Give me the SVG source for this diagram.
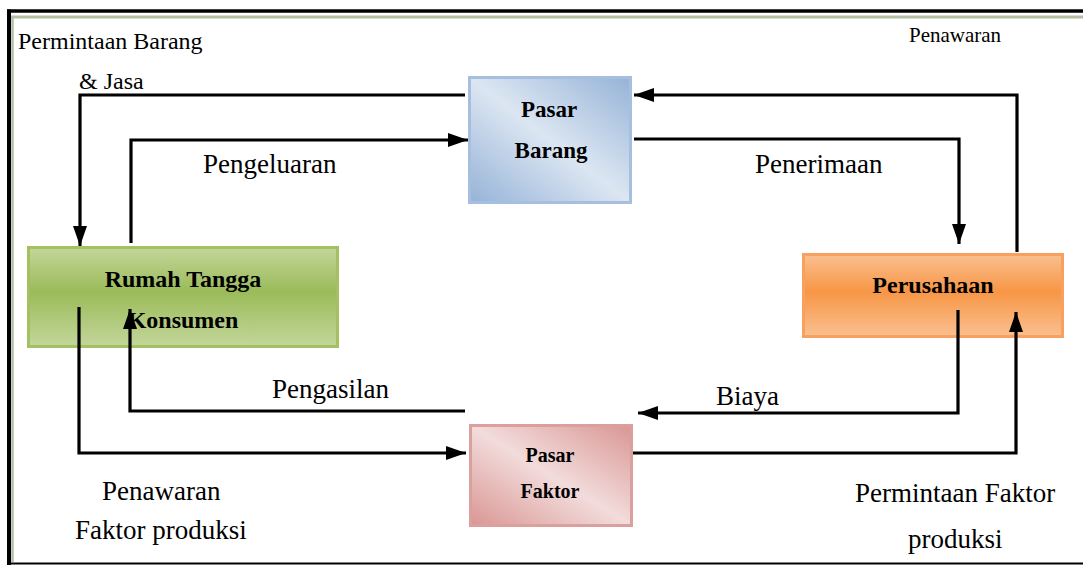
<svg xmlns="http://www.w3.org/2000/svg" width="1083" height="565" viewBox="0 0 1083 565">
<defs>
<style>
.lbl{font-family:"Liberation Serif","Times New Roman",serif;font-size:27px;fill:#000}
.nd{font-family:"Liberation Serif","Times New Roman",serif;font-weight:bold;fill:#000;text-anchor:middle}
.cn{fill:none;stroke:#000;stroke-width:3.2;marker-end:url(#ah)}
</style>
<marker id="ah" viewBox="0 0 20 14" refX="20" refY="7" markerWidth="20" markerHeight="14" markerUnits="userSpaceOnUse" orient="auto">
<path d="M0,0 L20,7 L0,14 z" fill="#000"/>
</marker>
<linearGradient id="gBlue" x1="0" y1="1" x2="1" y2="0">
<stop offset="0" stop-color="#95b3d7"/>
<stop offset="0.5" stop-color="#dce6f2"/>
<stop offset="1" stop-color="#95b3d7"/>
</linearGradient>
<linearGradient id="gRed" x1="0" y1="1" x2="1" y2="0">
<stop offset="0" stop-color="#d99694"/>
<stop offset="0.5" stop-color="#f2dcdb"/>
<stop offset="1" stop-color="#d99694"/>
</linearGradient>
<linearGradient id="gGreen" x1="0" y1="0" x2="0" y2="1">
<stop offset="0" stop-color="#c3d69b"/>
<stop offset="0.45" stop-color="#9bbb59"/>
<stop offset="1" stop-color="#c3d69b"/>
</linearGradient>
<linearGradient id="gOrange" x1="0" y1="0" x2="0" y2="1">
<stop offset="0" stop-color="#fac090"/>
<stop offset="0.45" stop-color="#f79646"/>
<stop offset="1" stop-color="#fac090"/>
</linearGradient>
</defs>
<rect x="0" y="0" width="1083" height="565" fill="#fff"/>
<g id="frame">
<line x1="7" y1="11" x2="1083" y2="11" stroke="#000" stroke-width="3.5"/>
<line x1="11" y1="17" x2="1083" y2="17" stroke="#b4bea2" stroke-width="3"/>
<line x1="9" y1="9.5" x2="9" y2="565" stroke="#000" stroke-width="4"/>
<line x1="12.5" y1="16" x2="12.5" y2="562" stroke="#b4bea2" stroke-width="2.5"/>
<line x1="7" y1="563.5" x2="1083" y2="563.5" stroke="#000" stroke-width="2"/>
</g>
<g id="pasar-barang">
<rect x="469.5" y="77.5" width="161" height="125" fill="url(#gBlue)" stroke="#a7bfde" stroke-width="3"/>
<text class="nd" x="549" y="117" font-size="23">Pasar</text>
<text class="nd" x="551" y="158" font-size="23">Barang</text>
</g>
<g id="rumah-tangga">
<rect x="28.5" y="247.5" width="309" height="99" fill="url(#gGreen)" stroke="#a4c063" stroke-width="3"/>
<text class="nd" x="183" y="287" font-size="24">Rumah Tangga</text>
<text class="nd" x="183" y="328" font-size="24">Konsumen</text>
</g>
<g id="perusahaan">
<rect x="803.5" y="254.5" width="259" height="82" fill="url(#gOrange)" stroke="#f8a060" stroke-width="3"/>
<text class="nd" x="933" y="293" font-size="24">Perusahaan</text>
</g>
<g id="pasar-faktor">
<rect x="470.5" y="425.5" width="161" height="100" fill="url(#gRed)" stroke="#dba09e" stroke-width="3"/>
<text class="nd" x="550" y="462" font-size="20">Pasar</text>
<text class="nd" x="550" y="498" font-size="20">Faktor</text>
</g>
<g id="connectors">
<path class="cn" d="M465,95 H80 V246"/>
<path class="cn" d="M131,243 V140 H468"/>
<path class="cn" d="M634,139 H959 V244"/>
<path class="cn" d="M1017,252 V95 H634"/>
<path class="cn" d="M958,310 V413 H638"/>
<path class="cn" d="M633,453 H1016 V312"/>
<path class="cn" d="M465,411 H130 V309"/>
<path class="cn" d="M79,307 V453 H466"/>
</g>
<g id="labels">
<text class="lbl" x="18" y="49" style="font-size:24px">Permintaan Barang</text>
<text class="lbl" x="79" y="89" style="font-size:24px">&amp; Jasa</text>
<text class="lbl" x="909" y="42" style="font-size:21px">Penawaran</text>
<text class="lbl" x="203" y="173">Pengeluaran</text>
<text class="lbl" x="755" y="173">Penerimaan</text>
<text class="lbl" x="272" y="398">Pengasilan</text>
<text class="lbl" x="716" y="405">Biaya</text>
<text class="lbl" x="102" y="500">Penawaran</text>
<text class="lbl" x="75" y="539">Faktor produksi</text>
<text class="lbl" x="855" y="502">Permintaan Faktor</text>
<text class="lbl" x="908" y="548">produksi</text>
</g>
</svg>
